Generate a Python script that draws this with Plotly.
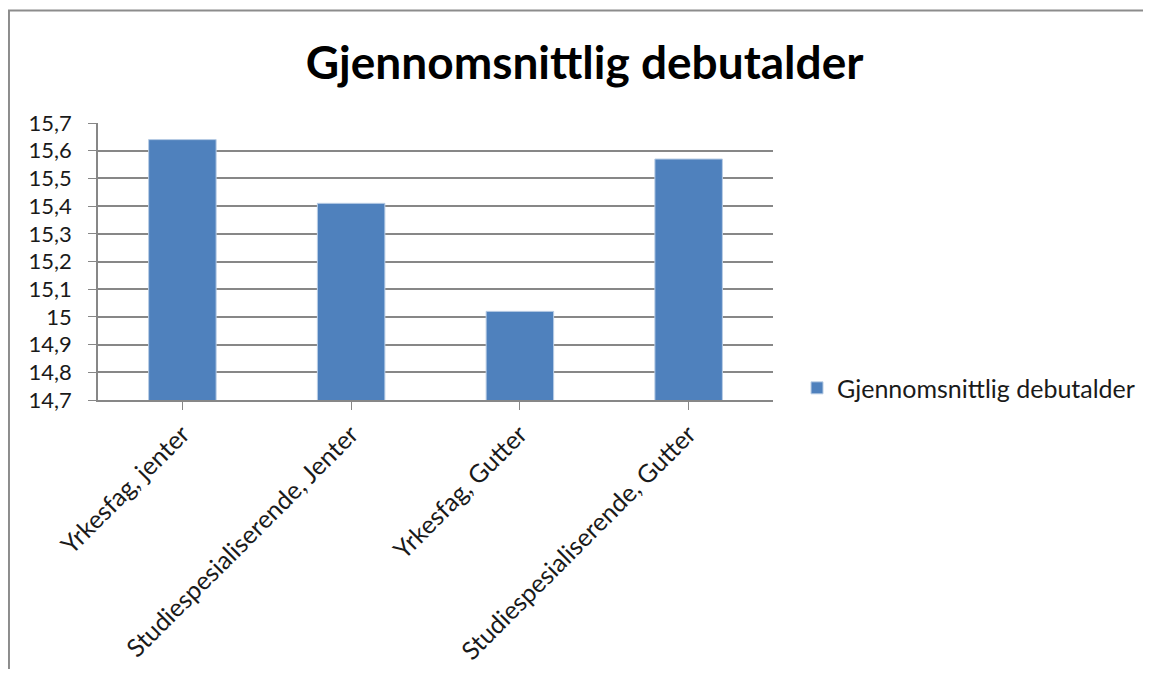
import plotly.graph_objects as go

kategorier = ['Yrkesfag, jenter', 'Studiespesialiserende, Jenter',
              'Yrkesfag, Gutter', 'Studiespesialiserende, Gutter']
debutalder = [15.64, 15.41, 15.02, 15.57]
serie = 'Gjennomsnittlig debutalder'

FARGE = '#4F81BD'
GRAA = '#878787'
FONT = 'Lato, Calibri, sans-serif'

fig = go.Figure(go.Bar(
    x=kategorier, y=debutalder, name=serie,
    marker=dict(color=FARGE, line=dict(color='#B9CDE5', width=1)),
    showlegend=True,
))

# ramme rundt hele diagrammet
fig.add_shape(type='rect', xref='paper', yref='paper',
              x0=-0.1319, x1=1.7, y0=-1.2, y1=1.406,
              line=dict(color='#8C8C8C', width=2), layer='below')

fig.update_layout(
    width=1135, height=661,
    separators=', ',
    font=dict(family=FONT, color='#1a1a1a', size=23),
    title=dict(text='<b>Gjennomsnittlig debutalder</b>', x=0.508, xanchor='center',
               y=0.917, yanchor='middle', font=dict(size=46, color='black')),
    margin=dict(l=90, r=370, t=115, b=269, autoexpand=False),
    paper_bgcolor='white', plot_bgcolor='white',
    bargap=0.6,
    xaxis=dict(showline=True, linecolor=GRAA, linewidth=1.5, ticks='outside',
               ticklen=8, tickcolor=GRAA, tickangle=-45, showgrid=False,
               tickfont=dict(size=25), automargin=False),
    yaxis=dict(range=[14.7, 15.7], dtick=0.1, tick0=14.7, showline=True,
               linecolor=GRAA, linewidth=1.5, ticks='outside', ticklen=8,
               tickcolor=GRAA, gridcolor=GRAA, gridwidth=1.5,
               tickfont=dict(size=22), ticklabelstandoff=12, zeroline=False,
               automargin=False),
    legend=dict(x=1.0356, y=0.043, xanchor='left', yanchor='middle',
                font=dict(size=25), itemwidth=30),
)

fig.write_html('out.html')
